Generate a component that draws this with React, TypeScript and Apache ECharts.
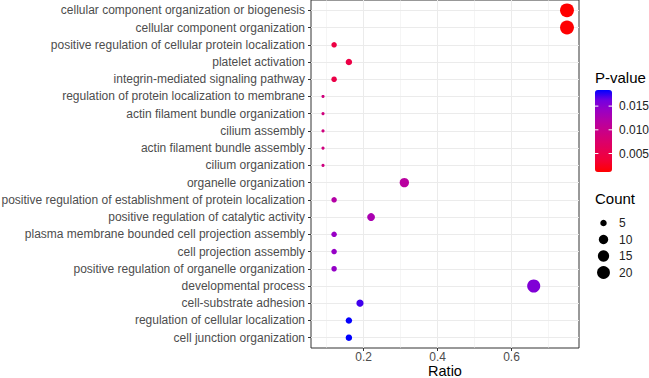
import React, { useEffect, useRef } from "react";
import * as echarts from "echarts";

const categories = [
  "cellular component organization or biogenesis",
  "cellular component organization",
  "positive regulation of cellular protein localization",
  "platelet activation",
  "integrin-mediated signaling pathway",
  "regulation of protein localization to membrane",
  "actin filament bundle organization",
  "cilium assembly",
  "actin filament bundle assembly",
  "cilium organization",
  "organelle organization",
  "positive regulation of establishment of protein localization",
  "positive regulation of catalytic activity",
  "plasma membrane bounded cell projection assembly",
  "cell projection assembly",
  "positive regulation of organelle organization",
  "developmental process",
  "cell-substrate adhesion",
  "regulation of cellular localization",
  "cell junction organization",
];

const ratio = [0.75, 0.75, 0.12, 0.16, 0.12, 0.09, 0.09, 0.09, 0.09, 0.09, 0.31, 0.12, 0.22, 0.12, 0.12, 0.12, 0.66, 0.19, 0.16, 0.16];
const count = [24, 24, 4, 5, 4, 3, 3, 3, 3, 3, 10, 4, 7, 4, 4, 4, 21, 6, 5, 5];
const pvalue = [0.0011, 0.0012, 0.0046, 0.0047, 0.0048, 0.0088, 0.0089, 0.009, 0.009, 0.0091, 0.0115, 0.012, 0.0128, 0.0142, 0.0143, 0.0144, 0.0155, 0.0172, 0.0183, 0.0184];

const majorX = [0.2, 0.4, 0.6];
const minorX = [0.1, 0.3, 0.5, 0.7];
const pTicks = [0.005, 0.01, 0.015];
const sizeBreaks = [5, 10, 15, 20];

const gradient = ["#FF0000", "#F40031", "#E80050", "#DA006C", "#C90088", "#B500A5", "#9A00C3", "#7300E0", "#0000FF"];

const FONT = "Liberation Sans, Arial, Helvetica, sans-serif";

const pMin = Math.min(...pvalue);
const pMax = Math.max(...pvalue);
const cMin = Math.min(...count);
const cMax = Math.max(...count);

function diameter(c: number) {
  const s = 1 + 5 * Math.sqrt((c - cMin) / (cMax - cMin));
  return 2.15 * s + 1;
}

export default function App() {
  const ref = useRef<HTMLDivElement>(null);
  useEffect(() => {
    if (!ref.current) return;
    const chart = echarts.init(ref.current, null, { renderer: "svg" });

    const W = 649;
    const gridLeft = 311;
    const gridTop = 0;
    const gridRight = 70;
    const gridBottom = 30;

    const barLeft = 595;
    const barTop = 90;
    const barW = 17;
    const barH = 82;
    const keyCx = barLeft + barW / 2;

    const graphics: any[] = [];
    graphics.push({
      type: "text",
      x: gridLeft + (W - gridLeft - gridRight) / 2,
      y: 371,
      style: { text: "Ratio", font: `14.5px ${FONT}`, lineHeight: 14, fill: "#000", align: "center", verticalAlign: "middle" },
    });
    graphics.push({
      type: "text",
      x: barLeft,
      y: 77,
      style: { text: "P-value", font: `15px ${FONT}`, fill: "#000", verticalAlign: "middle" },
    });
    pTicks.forEach((v) => {
      const y = barTop + barH - ((v - pMin) / (pMax - pMin)) * barH;
      graphics.push({
        type: "text",
        x: 619,
        y,
        style: { text: v.toFixed(3), font: `12px ${FONT}`, fill: "#222", verticalAlign: "middle" },
      });
      graphics.push({ type: "line", shape: { x1: barLeft, y1: y, x2: barLeft + 3.4, y2: y }, style: { stroke: "#fff", lineWidth: 1 }, z: 100 });
      graphics.push({ type: "line", shape: { x1: barLeft + barW - 3.4, y1: y, x2: barLeft + barW, y2: y }, style: { stroke: "#fff", lineWidth: 1 }, z: 100 });
    });
    graphics.push({
      type: "text",
      x: barLeft,
      y: 198,
      style: { text: "Count", font: `15px ${FONT}`, fill: "#000", verticalAlign: "middle" },
    });
    sizeBreaks.forEach((c, i) => {
      const cy = 223 + i * 16.5;
      graphics.push({ type: "circle", shape: { cx: keyCx, cy, r: diameter(c) / 2 }, style: { fill: "#000" } });
      graphics.push({
        type: "text",
        x: 619,
        y: cy,
        style: { text: String(c), font: `12px ${FONT}`, fill: "#222", verticalAlign: "middle" },
      });
    });

    const option: any = {
      animation: false,
      backgroundColor: "#fff",
      textStyle: { fontFamily: FONT },
      grid: {
        left: gridLeft,
        top: gridTop,
        right: gridRight,
        bottom: gridBottom,
        outerBoundsMode: "none",
        containLabel: false,
        show: true,
        borderColor: "#333",
        borderWidth: 1,
        backgroundColor: "transparent",
      },
      xAxis: {
        type: "value",
        min: 0.0575,
        max: 0.7825,
        axisLine: { show: false, onZero: false },
        axisTick: { show: true, length: 3, lineStyle: { color: "#333" }, customValues: majorX },
        axisLabel: {
          customValues: majorX,
          margin: 3,
          fontSize: 12,
          lineHeight: 12,
          color: "#4D4D4D",
          fontFamily: FONT,
          formatter: (v: number) => v.toFixed(1),
        },
        splitLine: { show: true, lineStyle: { color: "#EBEBEB", width: 1 } },
      },
      yAxis: {
        type: "value",
        inverse: true,
        min: -0.6,
        max: categories.length - 1 + 0.6,
        axisLine: { show: false, onZero: false },
        axisTick: { show: true, length: 3, lineStyle: { color: "#333" }, customValues: categories.map((_, i) => i) },
        axisLabel: {
          customValues: categories.map((_, i) => i),
          margin: 6,
          fontSize: 12,
          color: "#4D4D4D",
          fontFamily: FONT,
          formatter: (v: number) => categories[Math.round(v)] ?? "",
        },
        splitLine: { show: true, lineStyle: { color: "#EBEBEB", width: 1 } },
      },
      visualMap: {
        type: "continuous",
        min: pMin,
        max: pMax,
        dimension: 3,
        seriesIndex: 1,
        calculable: false,
        left: barLeft,
        top: barTop,
        itemWidth: barW,
        itemHeight: barH,
        padding: 0,
        text: ["", ""],
        showLabel: false,
        inRange: { color: gradient },
      },
      series: [
        {
          type: "scatter",
          data: [],
          silent: true,
          z: 1,
          markLine: {
            silent: true,
            symbol: ["none", "none"],
            label: { show: false },
            lineStyle: { color: "#EBEBEB", width: 0.5, type: "solid" },
            data: minorX.map((v) => ({ xAxis: v })),
          },
        },
        {
          type: "scatter",
          z: 5,
          data: categories.map((_, i) => [ratio[i], i, count[i], pvalue[i]]),
          symbol: "circle",
          symbolSize: (d: number[]) => diameter(d[2]),
          itemStyle: { opacity: 1 },
        },
      ],
      graphic: graphics,
    };

    chart.setOption(option);
    return () => chart.dispose();
  }, []);

  return (
    <div
      ref={ref}
      style={{ position: "fixed", left: 0, top: 0, width: 649, height: 378, background: "#fff" }}
    />
  );
}
